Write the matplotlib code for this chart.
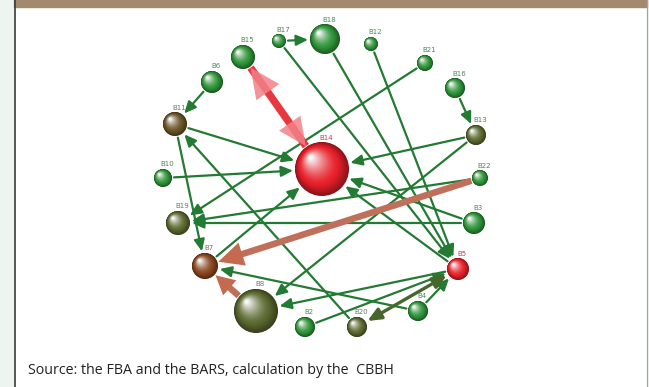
import numpy as np
import matplotlib
matplotlib.use("Agg")
import matplotlib.pyplot as plt
from matplotlib.patches import Circle, Rectangle, Polygon, FancyArrowPatch
from matplotlib.colors import to_rgb

# nodes: name, layout position (pixels), size, colour group
names = ["B18", "B17", "B15", "B6", "B11", "B10", "B19", "B7", "B8", "B2",
         "B20", "B4", "B5", "B3", "B22", "B13", "B16", "B21", "B12", "B14"]
pos_x = [325, 279, 243, 212, 175, 163, 178, 205, 256, 305,
         357, 418, 458, 474, 480, 476, 455, 425, 371, 322]
pos_y = [39, 41, 57, 82, 124, 178, 223, 266, 311, 327,
         327, 311, 269, 223, 178, 135, 88, 63, 44, 169]
size = [15, 7, 12, 11, 12, 9, 12, 13, 22, 10,
        10, 10, 11, 11, 8, 10, 10, 8, 7, 27]
group = ["green", "green", "green", "green", "brown_olive", "green", "olive", "brown", "olive", "green",
         "olive", "green", "red", "green", "green", "olive", "green", "green", "green", "red"]

# directed links
links = [("B17", "B18"), ("B6", "B11"), ("B16", "B13"), ("B11", "B14"), ("B10", "B14"),
         ("B13", "B14"), ("B3", "B14"), ("B5", "B14"), ("B7", "B14"), ("B11", "B7"),
         ("B21", "B19"), ("B22", "B19"), ("B3", "B19"), ("B13", "B8"), ("B5", "B8"),
         ("B20", "B11"), ("B17", "B5"), ("B18", "B5"), ("B12", "B5"), ("B2", "B5"),
         ("B4", "B5"), ("B4", "B7")]
both_links = [("B5", "B20")]
strong_links = [("B22", "B7"), ("B8", "B7")]
strong_both = [("B15", "B14")]

source = "Source: the FBA and the BARS, calculation by the  CBBH"

colours = {"green": "#2e9438", "olive": "#5b6a30", "brown_olive": "#6b5628",
           "brown": "#8a4720", "red": "#e8202a"}
label_col = {"green": "#4a8a55", "olive": "#6f7660", "brown_olive": "#6f7660",
             "brown": "#7a6a5a", "red": "#d23a46"}

W, H = 649, 387
fig = plt.figure(figsize=(W / 100, H / 100), dpi=100)
ax = fig.add_axes([0, 0, 1, 1])
ax.set_xlim(0, W)
ax.set_ylim(H, 0)
ax.set_aspect("equal")
ax.axis("off")

# page frame
ax.add_patch(Rectangle((0, 0), 14, H, color="#eef5f0", zorder=0))
ax.add_patch(Rectangle((647, 0), 2, H, color="#eef5f0", zorder=0))
ax.add_patch(Rectangle((14, 0), 633, 6.5, color="#a38a6f", zorder=1))
ax.plot([14.5, 14.5], [0, H], color="#3a3a3a", lw=1.2, zorder=1)
ax.plot([646.5, 646.5], [0, H], color="#9aa6a0", lw=0.8, zorder=1)

node = {n: (np.array([x, y], float), r, g) for n, x, y, r, g in zip(names, pos_x, pos_y, size, group)}
PX = 0.72  # points per pixel


def ends(a, b, gap_a=2, gap_b=2):
    pa, ra, _ = node[a]
    pb, rb, _ = node[b]
    d = (pb - pa) / np.linalg.norm(pb - pa)
    return pa + d * (ra + gap_a), pb - d * (rb + gap_b), d


def head(tip, d, length, half, colour, alpha=1.0):
    nrm = np.array([-d[1], d[0]])
    base = tip - d * length
    ax.add_patch(Polygon([tip, base + nrm * half, base - nrm * half], closed=True,
                         color=colour, alpha=alpha, lw=0, zorder=4))


green_line = "#237a32"
for a, b in links:
    p0, p1, d = ends(a, b)
    ax.add_patch(FancyArrowPatch(p0, p1, arrowstyle="-|>,head_length=7,head_width=3.2",
                                 mutation_scale=1, color=green_line, lw=1.6, zorder=3,
                                 shrinkA=0, shrinkB=0))

for a, b in both_links:
    p0, p1, d = ends(a, b)
    ax.add_patch(FancyArrowPatch(p0, p1, arrowstyle="<|-|>,head_length=8,head_width=3.5",
                                 mutation_scale=1, color="#46662c", lw=2.4, zorder=3,
                                 shrinkA=0, shrinkB=0))

for a, b in strong_links:
    p0, p1, d = ends(a, b, 1, 1)
    L = 25 if a == "B22" else 19
    ax.plot([p0[0], p1[0] - d[0] * L * 0.8], [p0[1], p1[1] - d[1] * L * 0.8],
            color="#c0705a", lw=6.5 * PX, solid_capstyle="butt", zorder=3)
    head(p1, d, L, 12 if a == "B22" else 10, "#c46a50")

for a, b in strong_both:
    p0, p1, d = ends(a, b, 1, 1)
    ax.plot([p0[0], p1[0]], [p0[1], p1[1]], color="#e8383e", lw=7.5 * PX,
            solid_capstyle="butt", zorder=3)
    head(p0, -d, 30, 14, "#f28088", 0.85)
    head(p1, d, 28, 13, "#f28088", 0.85)


def sphere(c, r, colour):
    base = np.array(to_rgb(colour))
    dark = base * 0.6
    white = np.ones(3)
    n = 40
    for k in range(n):
        t = k / (n - 1)
        rr = r * (1 - 0.92 * t)
        cx, cy = c[0] - 0.42 * r * t, c[1] - 0.42 * r * t
        if t < 0.3:
            col = dark + (base - dark) * (t / 0.3)
        else:
            s = (t - 0.3) / 0.7
            col = base + (white * 0.97 - base) * s ** 1.4
        ax.add_patch(Circle((cx, cy), rr, color=np.clip(col, 0, 1), lw=0, zorder=5))


for n in names:
    c, r, g = node[n]
    sphere(c, r, colours[g])
    ax.text(c[0] + 4, c[1] - r - 1.5, n, fontsize=5, color=label_col[g],
            ha="center", va="bottom", zorder=6)

ax.text(28, 374, source, fontsize=10.3, color="#222222", ha="left", va="baseline",
        family="Open Sans")

fig.savefig("out.png", dpi=100)
